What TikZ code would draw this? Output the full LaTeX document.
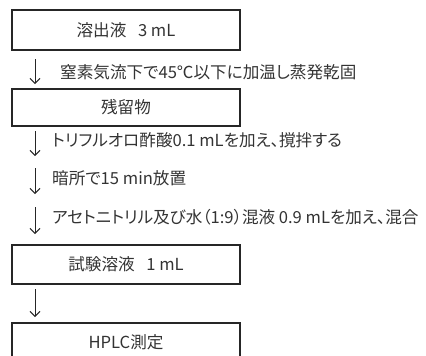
\documentclass[tikz,border=0pt]{standalone}
\usepackage{fontspec}
\setmainfont{Noto Sans CJK JP}[RawFeature=+palt]
\usetikzlibrary{arrows.meta}
\tikzset{
  box/.style={draw=black!85, line width=1.4pt, rectangle, minimum width=228pt, inner sep=0pt, font=\fontsize{16.6}{18}\selectfont, text=black!80},
  lbl/.style={anchor=west, inner sep=0pt, font=\fontsize{16.6}{18}\selectfont, text=black!80},
  flow/.style={line width=1pt, draw=black!85, -{Straight Barb[length=5pt,width=10pt,line width=1pt]}}
}
\begin{document}
\begin{tikzpicture}[x=1pt,y=-1pt]
\useasboundingbox (0,0) rectangle (426,356);
\clip (0,0) rectangle (426,356);
\node[box, minimum height=40pt] (b1) at (126,30) {溶出液\hspace{0.7em}3 mL};
\node[box, minimum height=37pt] (b2) at (126,107.5) {残留物};
\node[box, minimum height=39pt] (b3) at (126,264.5) {試験溶液\hspace{0.7em}1 mL};
\node[box, minimum height=39pt] (b4) at (126,342.5) {HPLC測定};
\node[lbl] (t1) at (60,72) {窒素気流下で45℃以下に加温し蒸発乾固};
\node[lbl] (t2) at (52,140) {トリフルオロ酢酸0.1 mLを加え、撹拌する};
\node[lbl] (t3) at (52,178) {暗所で15 min放置};
\node[lbl] (t4) at (52,217) {アセトニトリル及び水（1:9）混液 0.9 mLを加え、混合};
\coordinate (a1s) at (35,59);  \coordinate (a1e) at (35,84);
\coordinate (a2s) at (35,131); \coordinate (a2e) at (35,156);
\coordinate (a3s) at (35,168); \coordinate (a3e) at (35,194);
\coordinate (a4s) at (35,207); \coordinate (a4e) at (35,234);
\coordinate (a5s) at (35,289); \coordinate (a5e) at (35,317);
\draw[flow] (a1s) -- (a1e);
\draw[flow] (a2s) -- (a2e);
\draw[flow] (a3s) -- (a3e);
\draw[flow] (a4s) -- (a4e);
\draw[flow] (a5s) -- (a5e);
\end{tikzpicture}
\end{document}
